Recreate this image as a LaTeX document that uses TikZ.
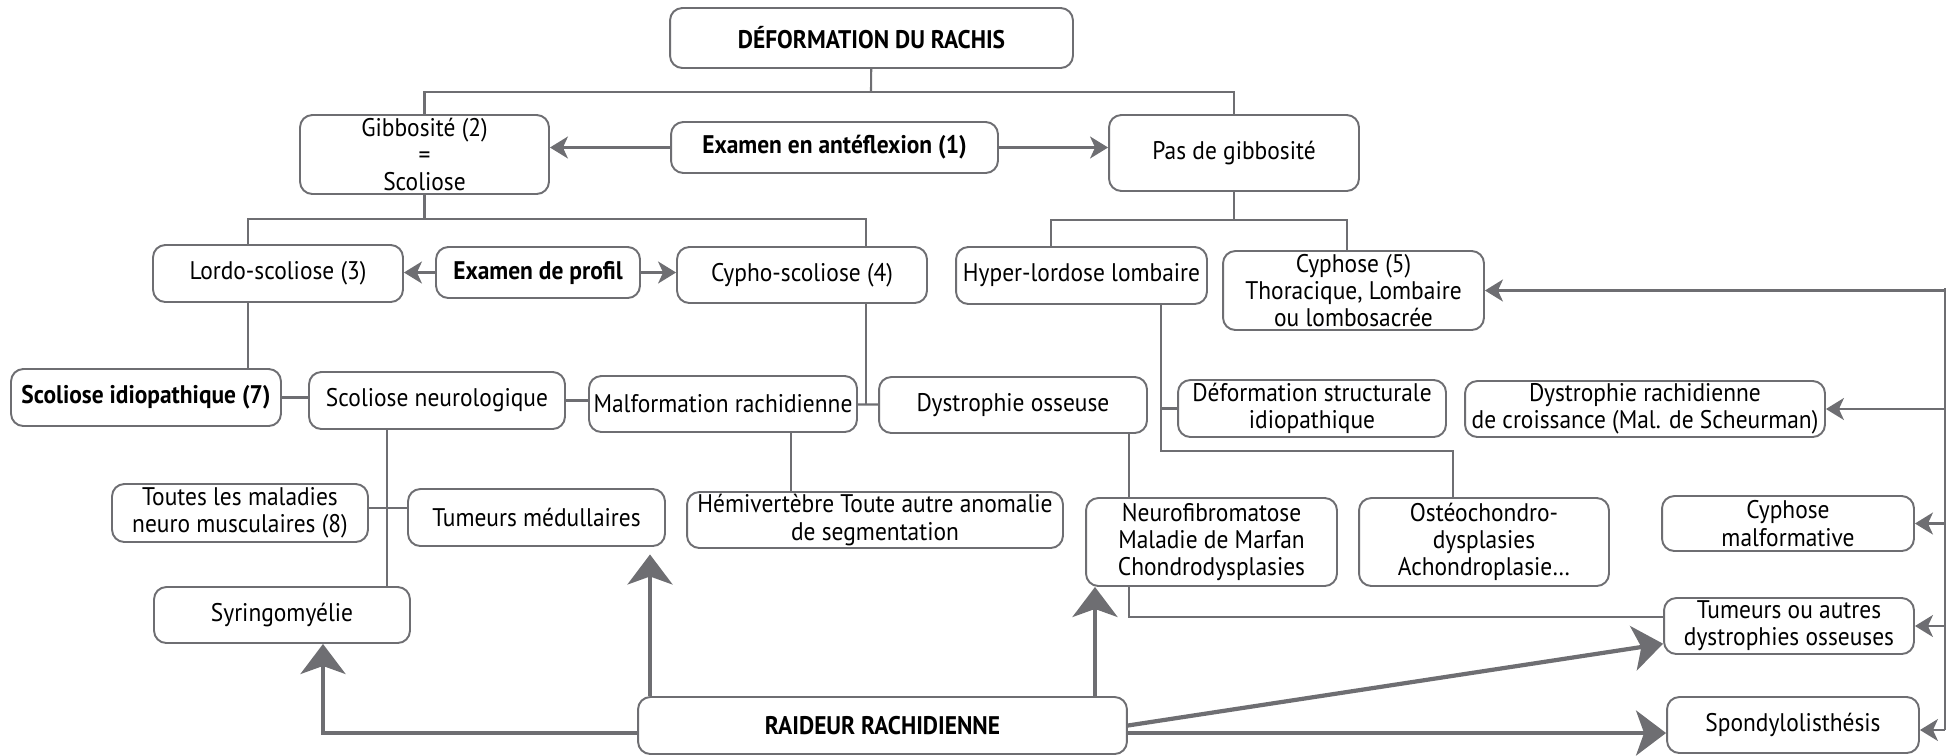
\documentclass[tikz,border=0pt]{standalone}
\usepackage{fontspec}
\setmainfont{PT Sans}[FakeStretch=0.92]
\usetikzlibrary{arrows.meta}
\definecolor{linegray}{RGB}{110,110,114}
\tikzset{
  box/.style={draw=linegray,line width=1.1pt,rounded corners=7pt,fill=white,align=center,inner sep=1pt,font=\fontsize{14.5}{15.5}\selectfont},
  link/.style={draw=linegray,line width=1.2pt},
  tip/.style={link,-{Stealth[length=3.6mm,width=4.4mm,inset=1mm]}},
  bigarrow/.style={draw=linegray,line width=2.4pt,-{Stealth[length=6mm,width=9mm,inset=1.6mm]}},
}

\begin{document}
\begin{tikzpicture}[x=0.02cm,y=-0.02cm]
  \useasboundingbox (0,0) rectangle (1951,755);
  \node[box,minimum width=8.06cm,minimum height=1.2cm] (def) at (871.5,38) {\textbf{DÉFORMATION DU RACHIS}};
  \node[box,minimum width=4.98cm,minimum height=1.58cm] (gib) at (424.5,154.5) {Gibbosité (2)\\=\\Scoliose};
  \node[box,minimum width=6.54cm,minimum height=1.02cm] (antef) at (834.5,147.5) {\textbf{Examen en antéflexion (1)}};
  \node[box,minimum width=5cm,minimum height=1.52cm] (pas) at (1234,153) {Pas de gibbosité};
  \node[box,minimum width=5cm,minimum height=1.14cm] (lordo) at (278,273.5) {Lordo-scoliose (3)};
  \node[box,minimum width=4.08cm,minimum height=1.02cm] (profil) at (538,272.5) {\textbf{Examen de profil}};
  \node[box,minimum width=5cm,minimum height=1.12cm] (cypho) at (802,275) {Cypho-scoliose (4)};
  \node[box,minimum width=5.02cm,minimum height=1.14cm] (hyper) at (1081.5,275.5) {Hyper-lordose lombaire};
  \node[box,minimum width=5.22cm,minimum height=1.58cm] (cyph5) at (1353.5,290.5) {Cyphose (5)\\Thoracique, Lombaire\\ou lombosacrée};
  \node[box,minimum width=5.4cm,minimum height=1.14cm] (idio) at (146,397.5) {\textbf{Scoliose idiopathique (7)}};
  \node[box,minimum width=5.12cm,minimum height=1.14cm] (neuro) at (437,400.5) {Scoliose neurologique};
  \node[box,minimum width=5.36cm,minimum height=1.12cm] (malf) at (723,404) {Malformation rachidienne};
  \node[box,minimum width=5.36cm,minimum height=1.12cm] (dystos) at (1013,405) {Dystrophie osseuse};
  \node[box,minimum width=5.36cm,minimum height=1.14cm] (defstr) at (1312,408.5) {Déformation structurale\\idiopathique};
  \node[box,minimum width=7.2cm,minimum height=1.12cm] (scheu) at (1645,409) {Dystrophie rachidienne\\de croissance (Mal. de Scheurman)};
  \node[box,minimum width=5.12cm,minimum height=1.16cm] (toutes) at (240,513) {Toutes les maladies\\neuro musculaires (8)};
  \node[box,minimum width=5.14cm,minimum height=1.14cm] (tumed) at (536.5,517.5) {Tumeurs médullaires};
  \node[box,minimum width=7.52cm,minimum height=1.12cm] (hemi) at (875,520) {Hémivertèbre Toute autre anomalie\\de segmentation};
  \node[box,minimum width=5.02cm,minimum height=1.76cm] (neurofib) at (1211.5,542) {Neurofibromatose\\Maladie de Marfan\\Chondrodysplasies};
  \node[box,minimum width=5cm,minimum height=1.76cm] (osteo) at (1484,542) {Ostéochondro-\\dysplasies\\Achondroplasie…};
  \node[box,minimum width=5.04cm,minimum height=1.1cm] (cmalf) at (1788,523.5) {Cyphose\\malformative};
  \node[box,minimum width=5.12cm,minimum height=1.12cm] (syr) at (282,615) {Syringomyélie};
  \node[box,minimum width=5cm,minimum height=1.12cm] (tumaut) at (1789,626) {Tumeurs ou autres\\dystrophies osseuses};
  \node[box,minimum width=9.78cm,minimum height=1.14cm] (raid) at (882.5,725.5) {\textbf{RAIDEUR RACHIDIENNE}};
  \node[box,minimum width=5.04cm,minimum height=1.12cm] (spondy) at (1793,725) {Spondylolisthésis};

  \coordinate (a1) at (871,92);
  \draw[link] (def) -- (a1);
  \draw[link] (gib) |- (a1) -| (pas);
  \draw[tip] (antef) -- (antef -| gib.east);
  \draw[tip] (antef) -- (antef -| pas.west);

  \coordinate (b1) at (248,219);
  \coordinate (b2) at (866,219);
  \draw[link] (gib) -- (gib |- b1);
  \draw[link] (lordo.north -| b1) -- (b1) -- (b2) -- (cypho.north -| b2);
  \draw[tip] (profil) -- (profil -| lordo.east);
  \draw[tip] (profil) -- (profil -| cypho.west);
  \draw[link] (lordo.south -| b1) -- (idio.north -| b1);
  \draw[link] (cypho.south -| b2) -- (malf.east -| b2);

  \coordinate (f1) at (1051,220);
  \coordinate (f2) at (1347,220);
  \draw[link] (pas) -- (pas |- f1);
  \draw[link] (hyper.north -| f1) -- (f1) -- (f2) -- (cyph5.north -| f2);

  \draw[link] (idio.east) -- (idio.east -| neuro.west);
  \draw[link] (neuro.east) -- (neuro.east -| malf.west);
  \draw[link] (malf) -- (dystos);

  \coordinate (d1) at (387,508);
  \draw[link] (neuro.south -| d1) -- (syr.north -| d1);
  \draw[link] (toutes.east |- d1) -- (tumed.west |- d1);
  \coordinate (e1) at (791,460);
  \draw[link] (malf.south -| e1) -- (hemi.north -| e1);

  \coordinate (h1) at (1161,451);
  \coordinate (h2) at (1453,451);
  \draw[link] (hyper.south -| h1) -- (h1) -- (h2) -- (osteo.north -| h2);
  \draw[link] (defstr.west -| h1) -- (defstr.west);

  \coordinate (k1) at (1129,617);
  \draw[link] (dystos.south -| k1) -- (neurofib.north -| k1);
  \draw[link] (neurofib.south -| k1) -- (k1) -- (tumaut.west |- k1);

  \coordinate (r1) at (1945,288);
  \coordinate (r2) at (1945,730);
  \draw[link] (r1) -- (r2);
  \foreach \n in {cyph5,scheu,cmalf,tumaut}
    \draw[tip] (r1 |- \n.east) -- (\n.east);
  \draw[tip] (r2) -- (r2 -| spondy.east);

  \coordinate (s1) at (323,733);
  \coordinate (t1) at (650,0);
  \coordinate (t2) at (1095,0);
  \draw[bigarrow] (raid.west |- s1) -- (s1) -- (s1 |- syr.south);
  \draw[bigarrow,shorten >=0.15cm] (raid.north -| t1) -- (tumed.south -| t1);
  \draw[bigarrow] (raid.north -| t2) -- (neurofib.south -| t2);
  \draw[bigarrow] (raid.east) -- (tumaut.188);
  \draw[bigarrow] (raid.east |- s1) -- (spondy.west |- s1);
\end{tikzpicture}
\end{document}
